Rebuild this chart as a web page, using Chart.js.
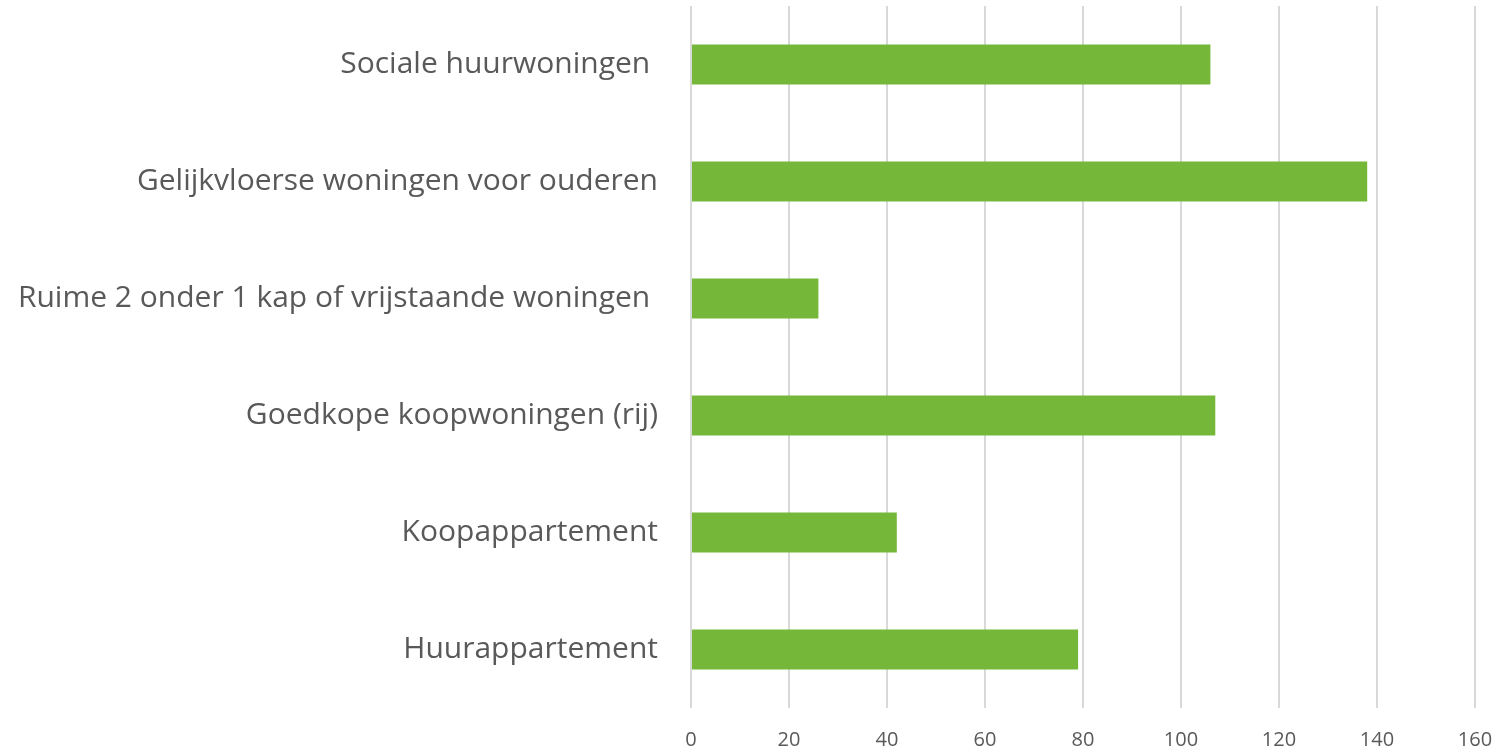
<!DOCTYPE html>
<html>
<head>
<meta charset="utf-8">
<script src="https://cdn.jsdelivr.net/npm/chart.js@4"></script>
<style>
  body { margin: 0; background: #fff; }
  canvas { display: block; }
</style>
</head>
<body>
<canvas id="grafiek" width="1495" height="751"></canvas>
<script>
// categorieen en aantallen
const categorieen = [
  'Sociale huurwoningen ',
  'Gelijkvloerse woningen voor ouderen',
  'Ruime 2 onder 1 kap of vrijstaande woningen ',
  'Goedkope koopwoningen (rij)',
  'Koopappartement',
  'Huurappartement'
];
const aantallen = [106, 138, 26, 107, 42, 79];
const xMin = 0;
const xMax = 160;
const xStap = 20;

new Chart(document.getElementById('grafiek'), {
  type: 'bar',
  data: {
    labels: categorieen,
    datasets: [{
      label: 'Aantal',
      data: aantallen,
      backgroundColor: '#75b738',
      borderWidth: 0,
      categoryPercentage: 1,
      barPercentage: 0.342
    }]
  },
  options: {
    indexAxis: 'y',
    responsive: false,
    animation: false,
    devicePixelRatio: 1,
    layout: { padding: { top: 6, right: 20, left: 0, bottom: 0 } },
    plugins: {
      legend: { display: false },
      tooltip: { enabled: false }
    },
    scales: {
      x: {
        min: xMin,
        max: xMax,
        ticks: {
          stepSize: xStap,
          color: '#595959',
          font: { family: 'Open Sans', size: 20 },
          padding: 20
        },
        grid: { color: '#d9d9d9', lineWidth: 2, drawTicks: false },
        border: { display: false },
        afterFit: (scale) => {
          scale.height = 43;
          scale.paddingLeft = 0;
          scale.paddingRight = 0;
        }
      },
      y: {
        ticks: {
          color: '#595959',
          font: { family: 'Open Sans', size: 30 },
          padding: 25
        },
        grid: { display: false },
        border: { display: false },
        afterFit: (scale) => {
          scale.width = 691;
          scale.paddingTop = 0;
          scale.paddingBottom = 0;
        }
      }
    }
  }
});
</script>
</body>
</html>
